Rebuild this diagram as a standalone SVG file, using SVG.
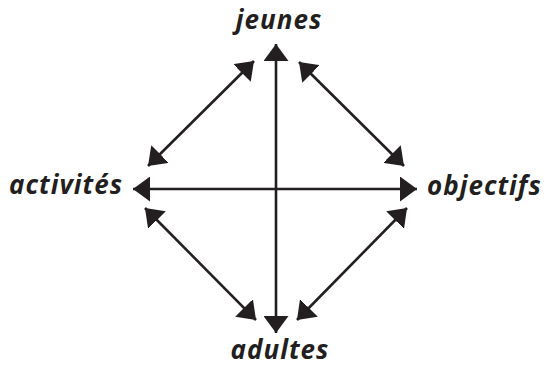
<svg xmlns="http://www.w3.org/2000/svg" width="546" height="367" viewBox="0 0 546 367">
<style>
.lbl{font-family:"Open Sans","Liberation Sans",sans-serif;font-weight:bold;font-style:italic;font-size:26px;letter-spacing:1px;fill:#231f20}
.ln{stroke:#231f20;stroke-width:2.6;fill:none;marker-start:url(#ah);marker-end:url(#ah)}
</style>
<defs>
<marker id="ah" viewBox="0 0 17 25" refX="17" refY="12.5" markerWidth="17" markerHeight="25" markerUnits="userSpaceOnUse" orient="auto-start-reverse">
<path d="M0,0 L17,12.5 L0,25 Z" fill="#231f20"/>
</marker>
</defs>
<rect width="546" height="367" fill="#ffffff"/>
<g id="connectors">
<line class="ln" x1="276" y1="333" x2="276" y2="44"/>
<line class="ln" x1="417" y1="189" x2="133" y2="189"/>
<line class="ln" x1="148" y1="166" x2="254" y2="61"/>
<line class="ln" x1="299" y1="62" x2="404" y2="166"/>
<line class="ln" x1="145" y1="208" x2="256" y2="320"/>
<line class="ln" x1="407" y1="208" x2="297" y2="320"/>
</g>
<g id="jeunes"><text class="lbl" x="279" y="29" text-anchor="middle">jeunes</text></g>
<g id="activites"><text class="lbl" x="123" y="194" text-anchor="end">activités</text></g>
<g id="objectifs"><text class="lbl" x="427" y="195">objectifs</text></g>
<g id="adultes"><text class="lbl" x="280" y="359" text-anchor="middle">adultes</text></g>
</svg>
